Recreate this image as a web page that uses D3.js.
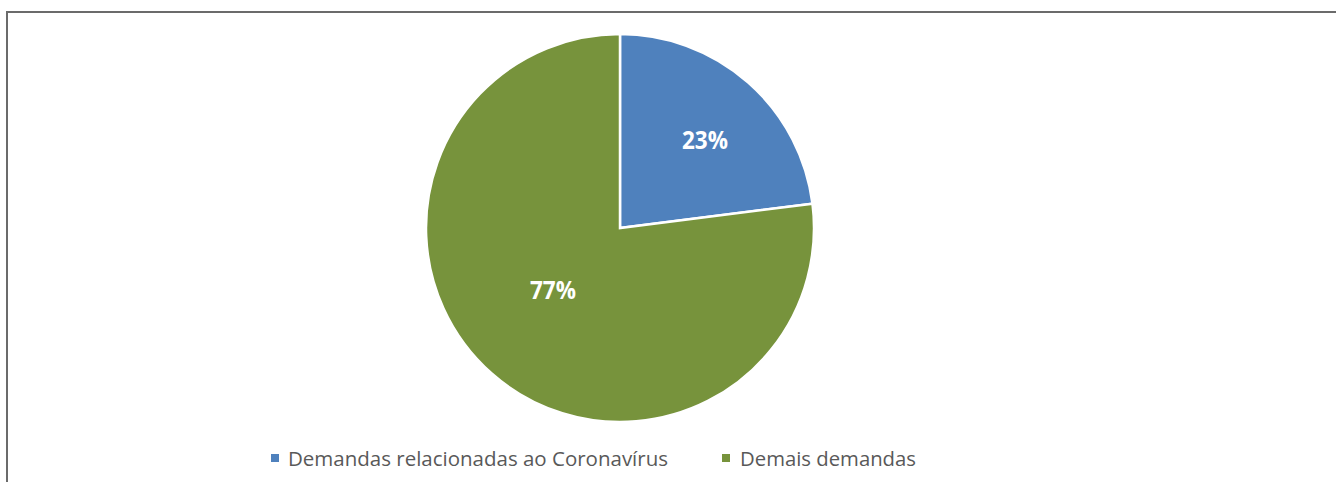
<!DOCTYPE html>
<html><head><meta charset="utf-8">
<script src="https://cdn.jsdelivr.net/npm/d3@7"></script>
<style>html,body{margin:0;padding:0;background:#fff;}svg{display:block;}</style>
</head><body>
<svg id="c" width="1336" height="482"></svg>
<script>
const categories = ["Demandas relacionadas ao Coronavírus", "Demais demandas"];
const values = [23, 77];
const labels = ["23%", "77%"];
const colors = ["#4F81BD", "#77933C"];

const svg = d3.select("#c");
// frame
svg.append("path").attr("d","M7,482 V12 H1336").attr("fill","none").attr("stroke","#6b6b6b").attr("stroke-width",2);

const cx = 620, cy = 228, r = 194;
const pie = d3.pie().sort(null).value(d => d)(values);
const arc = d3.arc().innerRadius(0).outerRadius(r);
const g = svg.append("g").attr("transform", `translate(${cx},${cy})`);
g.selectAll("path").data(pie).join("path")
  .attr("d", arc).attr("fill", (d,i) => colors[i])
  .attr("stroke", "#fff").attr("stroke-width", 2.5);

const labelPos = [[705-cx, 149-cy], [553-cx, 299-cy]];
g.selectAll("text").data(pie).join("text")
  .attr("x", (d,i) => labelPos[i][0]).attr("y", (d,i) => labelPos[i][1])
  .attr("text-anchor","middle").attr("fill","#fff")
  .attr("font-family","'Open Sans', sans-serif").attr("font-weight","bold").attr("font-size",25)
  .attr("textLength",46).attr("lengthAdjust","spacingAndGlyphs")
  .text((d,i) => labels[i]);

// legend
const leg = [{sx:271, tx:288, w:380}, {sx:722, tx:740, w:176}];
categories.forEach((c,i) => {
  svg.append("rect").attr("x", leg[i].sx).attr("y", 454).attr("width",8).attr("height",8).attr("fill", colors[i]);
  svg.append("text").attr("x", leg[i].tx).attr("y", 466)
    .attr("font-family","'Open Sans', sans-serif").attr("font-size",20).attr("fill","#595959")
    .attr("textLength", leg[i].w).attr("lengthAdjust","spacingAndGlyphs")
    .text(c);
});
</script>
</body></html>
